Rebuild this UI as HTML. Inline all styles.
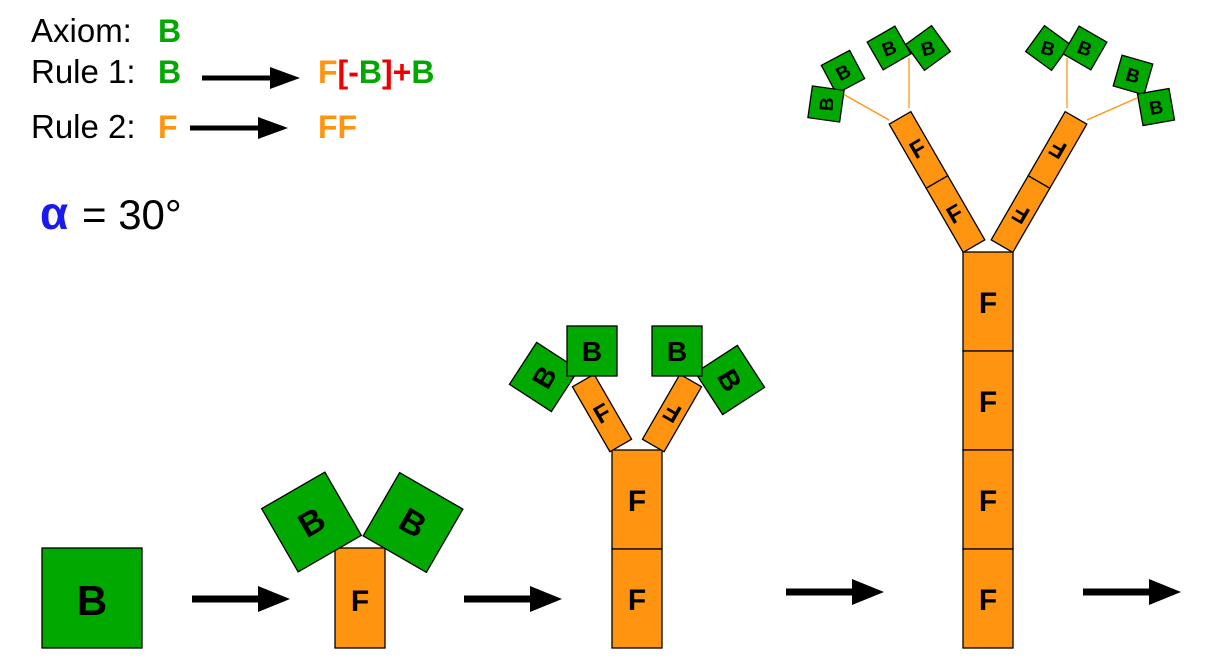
<!DOCTYPE html>
<html><head><meta charset="utf-8"><style>
html,body{margin:0;padding:0;background:#fff;}
svg{display:block;}
text{font-family:"Liberation Sans",sans-serif;}
</style></head><body>
<svg width="1216" height="669" viewBox="0 0 1216 669" xmlns="http://www.w3.org/2000/svg">
<defs>
<g id="arr"><rect x="0" y="-3.5" width="68" height="7" fill="#000"/><polygon points="66,-13 98,0 66,13" fill="#000"/></g>
<g id="arr2"><rect x="0" y="-2.5" width="70" height="5" fill="#000"/><polygon points="68,-11 98,0 68,11" fill="#000"/></g>
</defs>
<text x="31" y="42" font-size="33">Axiom:</text>
<text x="158" y="42" font-size="32" font-weight="bold" fill="#00a800">B</text>
<text x="31" y="83" font-size="33">Rule 1:</text>
<text x="158" y="83" font-size="32" font-weight="bold" fill="#00a800">B</text>
<use href="#arr2" x="202" y="78"/>
<text x="318" y="83" font-size="32" font-weight="bold"><tspan fill="#ff9410">F</tspan><tspan fill="#ee0000">[-</tspan><tspan fill="#00a800">B</tspan><tspan fill="#ee0000">]+</tspan><tspan fill="#00a800">B</tspan></text>
<text x="31" y="138" font-size="33">Rule 2:</text>
<text x="158" y="138" font-size="32" font-weight="bold" fill="#ff9410">F</text>
<use href="#arr2" x="190" y="128"/>
<text x="318" y="138" font-size="32" font-weight="bold" fill="#ff9410">FF</text>
<text x="40" y="229" font-size="46" fill="#1a1aee" font-family="Liberation Serif, serif" font-weight="bold">α</text>
<text x="82" y="229" font-size="42">= 30°</text>

<g stroke="#000" stroke-width="1.3">
<rect x="42" y="548" width="100" height="100" fill="#00a800"/>
<rect x="335" y="548" width="50" height="100" fill="#ff9410"/>
<g transform="translate(311.5,522) rotate(-30)"><rect x="-36.5" y="-36.5" width="73" height="73" fill="#00a800"/></g>
<g transform="translate(413,522.5) rotate(30)"><rect x="-36.5" y="-36.5" width="73" height="73" fill="#00a800"/></g>
<rect x="612" y="450" width="50" height="99" fill="#ff9410"/>
<rect x="612" y="549" width="50" height="99" fill="#ff9410"/>
<g transform="translate(602,413) rotate(-30)"><rect x="-12.5" y="-37.5" width="25" height="75" fill="#ff9410"/></g>
<g transform="translate(672,413) rotate(30)"><rect x="-12.5" y="-37.5" width="25" height="75" fill="#ff9410"/></g>
<g transform="translate(544,377) rotate(-57)"><rect x="-25" y="-25" width="50" height="50" fill="#00a800"/></g>
<g transform="translate(730,380) rotate(57)"><rect x="-25" y="-25" width="50" height="50" fill="#00a800"/></g>
<rect x="567" y="326" width="50" height="50" fill="#00a800"/>
<rect x="652" y="326" width="50" height="50" fill="#00a800"/>
<rect x="963" y="252" width="50" height="99" fill="#ff9410"/>
<rect x="963" y="351" width="50" height="99" fill="#ff9410"/>
<rect x="963" y="450" width="50" height="99" fill="#ff9410"/>
<rect x="963" y="549" width="50" height="99" fill="#ff9410"/>
<g transform="translate(937,182) rotate(-30)"><rect x="-12.5" y="-74" width="25" height="74" fill="#ff9410"/><rect x="-12.5" y="0" width="25" height="74" fill="#ff9410"/></g>
<g transform="translate(1039,182) rotate(30)"><rect x="-12.5" y="-74" width="25" height="74" fill="#ff9410"/><rect x="-12.5" y="0" width="25" height="74" fill="#ff9410"/></g>
</g>
<g stroke="#ff9410" stroke-width="1.3">
<line x1="889" y1="120" x2="843" y2="94"/>
<line x1="909" y1="108" x2="909" y2="58"/>
<line x1="1067" y1="108" x2="1067" y2="58"/>
<line x1="1087" y1="120" x2="1137" y2="98"/>
</g>
<g stroke="#000" stroke-width="1.3" fill="#00a800">
<g transform="translate(843,72) rotate(-28)"><rect x="-16" y="-16" width="32" height="32"/></g>
<g transform="translate(826,104) rotate(-82)"><rect x="-16" y="-16" width="32" height="32"/></g>
<g transform="translate(889,48) rotate(-30)"><rect x="-16" y="-16" width="32" height="32"/></g>
<g transform="translate(928,48) rotate(-36)"><rect x="-16" y="-16" width="32" height="32"/></g>
<g transform="translate(1048,48) rotate(36)"><rect x="-16" y="-16" width="32" height="32"/></g>
<g transform="translate(1085,48) rotate(30)"><rect x="-16" y="-16" width="32" height="32"/></g>
<g transform="translate(1133,75) rotate(16)"><rect x="-16" y="-16" width="32" height="32"/></g>
<g transform="translate(1156,107) rotate(-10)"><rect x="-16" y="-16" width="32" height="32"/></g>
</g>

<g font-weight="bold" text-anchor="middle" fill="#000">
<text x="92" y="615" font-size="42">B</text>
<text x="360" y="611" font-size="30">F</text>
<text transform="translate(311.5,522) rotate(-30)" y="12" font-size="34">B</text>
<text transform="translate(413,522.5) rotate(30)" y="12" font-size="34">B</text>
<text x="637" y="511" font-size="30">F</text>
<text x="637" y="610" font-size="30">F</text>
<text transform="translate(602,413) rotate(-30)" y="9" font-size="25">F</text>
<text transform="translate(672,413) rotate(30) rotate(180)" y="9" font-size="25">F</text>
<text transform="translate(544,377) rotate(-60)" y="10" font-size="28">B</text>
<text transform="translate(730,380) rotate(60)" y="10" font-size="28">B</text>
<text x="592" y="361" font-size="28">B</text>
<text x="677" y="361" font-size="28">B</text>
<text x="988" y="313" font-size="30">F</text>
<text x="988" y="412" font-size="30">F</text>
<text x="988" y="511" font-size="30">F</text>
<text x="988" y="610" font-size="30">F</text>
<g font-size="24">
<text transform="translate(918,149) rotate(-30)" y="8">F</text>
<text transform="translate(955,214) rotate(-30)" y="8">F</text>
<text transform="translate(1058,149) rotate(30) rotate(180)" y="8">F</text>
<text transform="translate(1021,214) rotate(30) rotate(180)" y="8">F</text>
</g>
<g font-size="19">
<text transform="translate(843,72) rotate(-28)" y="7">B</text>
<text transform="translate(826,104) rotate(-85)" y="7">B</text>
<text transform="translate(889,48) rotate(-20)" y="7">B</text>
<text transform="translate(928,48) rotate(-15)" y="7">B</text>
<text transform="translate(1048,48) rotate(15)" y="7">B</text>
<text transform="translate(1085,48) rotate(20)" y="7">B</text>
<text transform="translate(1133,75) rotate(15)" y="7">B</text>
<text transform="translate(1156,107) rotate(-10)" y="7">B</text>
</g>
</g>

<use href="#arr" x="192" y="599"/>
<use href="#arr" x="464" y="599"/>
<use href="#arr" x="786" y="592"/>
<use href="#arr" x="1083" y="592"/>
</svg>
</body></html>
